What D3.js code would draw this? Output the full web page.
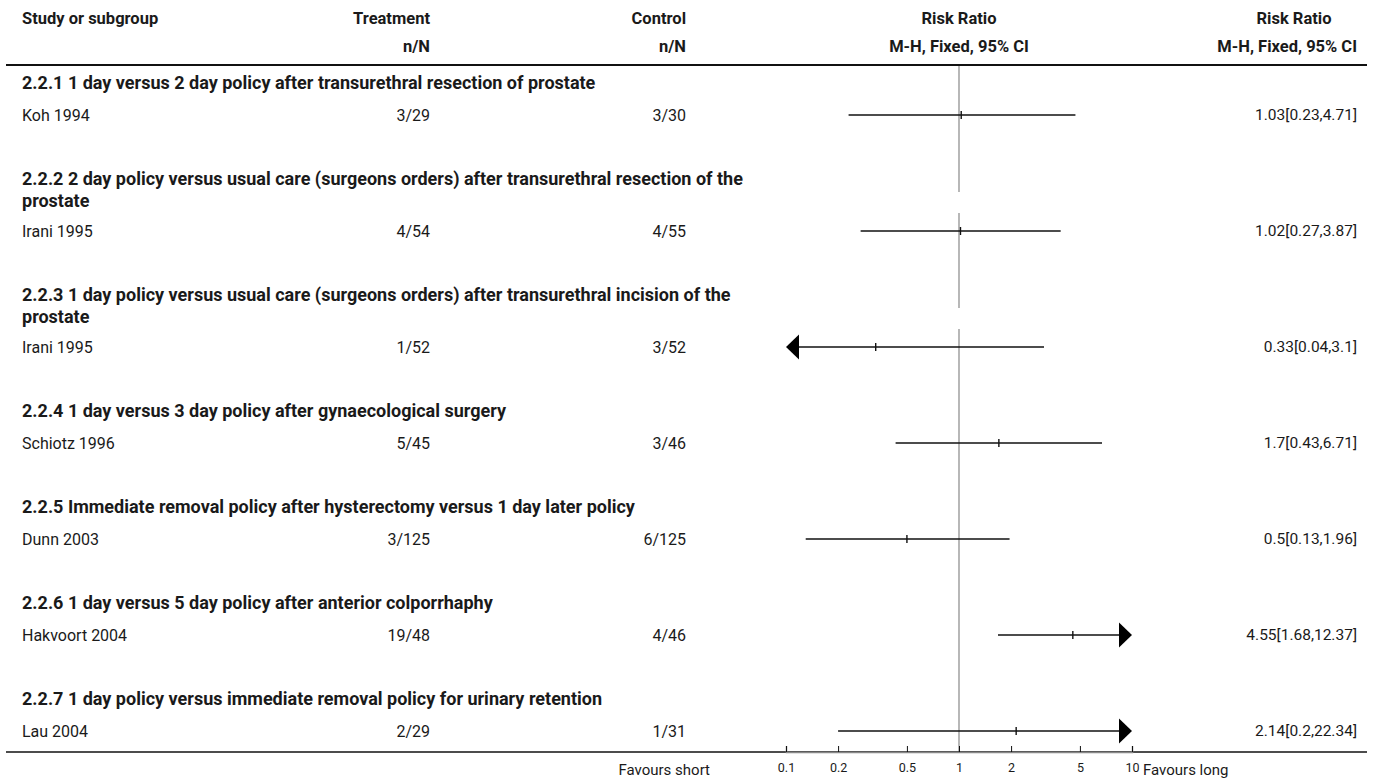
<!DOCTYPE html>
<html lang="en">
<head>
    <meta charset="UTF-8">
    <title>Forest plot - Risk Ratio</title>
    <script src="https://cdnjs.cloudflare.com/ajax/libs/d3/7.8.5/d3.min.js"></script>
    <style>
        body { margin: 0; background: #fff; }
        svg text { font-family: Roboto, "Liberation Sans", sans-serif; fill: #1a1a1a; }
    </style>
</head>
<body>
    <div id="chart"></div>
    <script>
        // subgroup headings (wrapped as in the source)
        const groups = [
            ["2.2.1 1 day versus 2 day policy after transurethral resection of prostate"],
            ["2.2.2 2 day policy versus usual care (surgeons orders) after transurethral resection of the", "prostate"],
            ["2.2.3 1 day policy versus usual care (surgeons orders) after transurethral incision of the", "prostate"],
            ["2.2.4 1 day versus 3 day policy after gynaecological surgery"],
            ["2.2.5 Immediate removal policy after hysterectomy versus 1 day later policy"],
            ["2.2.6 1 day versus 5 day policy after anterior colporrhaphy"],
            ["2.2.7 1 day policy versus immediate removal policy for urinary retention"]
        ];
        const studies = ["Koh 1994", "Irani 1995", "Irani 1995", "Schiotz 1996", "Dunn 2003", "Hakvoort 2004", "Lau 2004"];
        const treatment = ["3/29", "4/54", "1/52", "5/45", "3/125", "19/48", "2/29"];
        const control = ["3/30", "4/55", "3/52", "3/46", "6/125", "4/46", "1/31"];
        const rr = [1.03, 1.02, 0.33, 1.7, 0.5, 4.55, 2.14];
        const lower = [0.23, 0.27, 0.04, 0.43, 0.13, 1.68, 0.2];
        const upper = [4.71, 3.87, 3.1, 6.71, 1.96, 12.37, 22.34];
        const rrLabels = ["1.03[0.23,4.71]", "1.02[0.27,3.87]", "0.33[0.04,3.1]", "1.7[0.43,6.71]", "0.5[0.13,1.96]", "4.55[1.68,12.37]", "2.14[0.2,22.34]"];
        const tickValues = [0.1, 0.2, 0.5, 1, 2, 5, 10];

        const width = 1375, height = 781;
        const fs = 16, fsHead = 16.5, fsGroup = 18;
        const colTreat = 430, colControl = 686, colRight = 1357, left = 22, right = 1367;
        const topRule = 65, bottomRule = 752;

        const x = d3.scaleLog().domain([0.1, 10]).range([786, 1132]);

        const svg = d3.select("#chart").append("svg")
            .attr("width", width)
            .attr("height", height);

        // column header
        const hdr = svg.append("g").attr("font-weight", "bold").attr("font-size", fsHead);
        hdr.append("text").attr("x", left).attr("y", 18).attr("dy", "0.35em").text("Study or subgroup");
        hdr.append("text").attr("x", colTreat).attr("y", 18).attr("dy", "0.35em").attr("text-anchor", "end").text("Treatment");
        hdr.append("text").attr("x", colTreat).attr("y", 46).attr("dy", "0.35em").attr("text-anchor", "end").text("n/N");
        hdr.append("text").attr("x", colControl).attr("y", 18).attr("dy", "0.35em").attr("text-anchor", "end").text("Control");
        hdr.append("text").attr("x", colControl).attr("y", 46).attr("dy", "0.35em").attr("text-anchor", "end").text("n/N");
        hdr.append("text").attr("x", x(1)).attr("y", 18).attr("dy", "0.35em").attr("text-anchor", "middle").text("Risk Ratio");
        hdr.append("text").attr("x", x(1)).attr("y", 46).attr("dy", "0.35em").attr("text-anchor", "middle").text("M-H, Fixed, 95% CI");
        hdr.append("text").attr("x", 1294).attr("y", 18).attr("dy", "0.35em").attr("text-anchor", "middle").text("Risk Ratio");
        hdr.append("text").attr("x", colRight).attr("y", 46).attr("dy", "0.35em").attr("text-anchor", "end").text("M-H, Fixed, 95% CI");

        // work out row positions
        const rows = [];
        let y = 83;
        groups.forEach((g, i) => {
            const headY = g.map((_, j) => y + j * 22);
            const studyY = headY[headY.length - 1] + (g.length > 1 ? 30 : 32);
            rows.push({ lines: g, headY, studyY, i });
            y = studyY + 64;
        });

        // vertical line of no effect, broken at the wrapped heading lines
        const segs = [];
        let start = topRule;
        rows.forEach(r => {
            if (r.headY.length > 1) {
                segs.push([start, r.headY[1] - 9]);
                start = r.headY[1] + 12;
            }
        });
        segs.push([start, bottomRule]);
        svg.append("g").selectAll("line").data(segs).enter().append("line")
            .attr("x1", x(1)).attr("x2", x(1))
            .attr("y1", d => d[0]).attr("y2", d => d[1])
            .attr("stroke", "#a6a6a6").attr("stroke-width", 1.6);

        // rules
        svg.append("line").attr("x1", 6).attr("x2", right).attr("y1", topRule).attr("y2", topRule)
            .attr("stroke", "#111").attr("stroke-width", 2);
        svg.append("line").attr("x1", 6).attr("x2", right).attr("y1", bottomRule).attr("y2", bottomRule)
            .attr("stroke", "#111").attr("stroke-width", 1.5);

        // subgroup headings
        const gh = svg.append("g").attr("font-weight", "bold").attr("font-size", fsGroup);
        rows.forEach(r => {
            r.lines.forEach((t, j) => {
                gh.append("text").attr("x", left).attr("y", r.headY[j]).attr("dy", "0.35em").text(t);
            });
        });

        // study rows
        const body = svg.append("g").attr("font-size", fs);
        rows.forEach(r => {
            const i = r.i;
            body.append("text").attr("x", left).attr("y", r.studyY).attr("dy", "0.35em").text(studies[i]);
            body.append("text").attr("x", colTreat).attr("y", r.studyY).attr("dy", "0.35em").attr("text-anchor", "end").text(treatment[i]);
            body.append("text").attr("x", colControl).attr("y", r.studyY).attr("dy", "0.35em").attr("text-anchor", "end").text(control[i]);
            body.append("text").attr("x", colRight).attr("y", r.studyY).attr("dy", "0.35em").attr("text-anchor", "end")
                .attr("font-size", 15.5).text(rrLabels[i]);
        });

        // confidence intervals, arrows where they run off the scale
        const [dMin, dMax] = x.domain();
        const ci = svg.append("g");
        rows.forEach(r => {
            const i = r.i, cy = r.studyY;
            const lo = Math.max(lower[i], dMin), hi = Math.min(upper[i], dMax);
            const x1 = lower[i] < dMin ? x(dMin) + 12 : x(lo);
            const x2 = upper[i] > dMax ? x(dMax) - 12 : x(hi);
            ci.append("line").attr("x1", x1).attr("x2", x2).attr("y1", cy).attr("y2", cy)
                .attr("stroke", "#111").attr("stroke-width", 1.3);
            ci.append("line").attr("x1", x(rr[i])).attr("x2", x(rr[i])).attr("y1", cy - 4).attr("y2", cy + 4)
                .attr("stroke", "#111").attr("stroke-width", 1.4);
            if (lower[i] < dMin) {
                const t = x(dMin);
                ci.append("path").attr("d", `M${t},${cy}L${t + 13},${cy - 12.5}L${t + 13},${cy + 12.5}Z`).attr("fill", "#000");
            }
            if (upper[i] > dMax) {
                const t = x(dMax);
                ci.append("path").attr("d", `M${t},${cy}L${t - 13},${cy - 12.5}L${t - 13},${cy + 12.5}Z`).attr("fill", "#000");
            }
        });

        // axis
        const axis = svg.append("g").attr("transform", `translate(0,${bottomRule})`)
            .call(d3.axisTop(x).tickValues(tickValues).tickFormat(d3.format("")).tickSize(6).tickPadding(0));
        axis.select(".domain").attr("stroke", "#888").attr("stroke-width", 1.5);
        axis.selectAll(".tick line").attr("stroke", "#111");
        axis.selectAll(".tick text").attr("y", 20).attr("dy", "0").attr("font-size", 12.5)
            .attr("font-family", "Roboto, sans-serif").attr("fill", "#111");

        svg.append("text").attr("x", 710).attr("y", 770).attr("dy", "0.35em").attr("text-anchor", "end")
            .attr("font-size", 15).text("Favours short");
        svg.append("text").attr("x", 1143).attr("y", 770).attr("dy", "0.35em")
            .attr("font-size", 15).text("Favours long");
    </script>
</body>
</html>
